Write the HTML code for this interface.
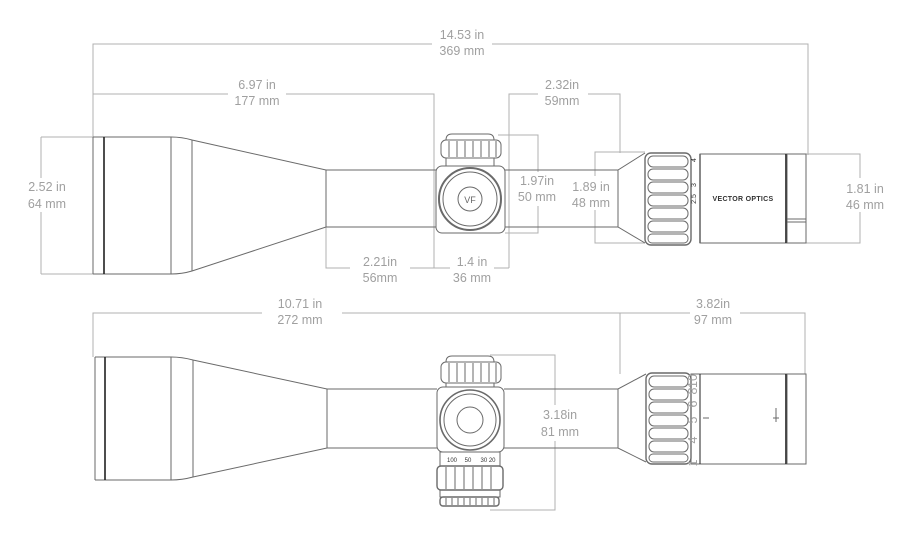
<!DOCTYPE html>
<html><head><meta charset="utf-8"><style>
html,body{margin:0;padding:0;background:#fff;}
svg{display:block;}
.d{stroke:#b0b0b0;stroke-width:1;fill:none;}
.s{stroke:#6a6a6a;stroke-width:1;fill:none;}
.k{stroke:#222;stroke-width:2;fill:none;}
text{font-family:"Liberation Sans",sans-serif;font-size:12.5px;fill:#a0a0a0;text-anchor:middle;}
.w{fill:#fff;stroke:none;}
</style></head><body>
<svg width="912" height="538" viewBox="0 0 912 538" xmlns="http://www.w3.org/2000/svg">
<!-- ===== TOP VIEW dimensions ===== -->
<path class="d" d="M93 137V44H808V155"/>
<rect class="w" x="432" y="28" width="60" height="32"/>
<text x="462" y="39">14.53 in</text><text x="462" y="55">369 mm</text>
<path class="d" d="M93 94H434V268"/>
<rect class="w" x="228" y="86" width="58" height="28"/>
<text x="257" y="89">6.97 in</text><text x="257" y="105">177 mm</text>
<path class="d" d="M509 268V94H620V153"/>
<rect class="w" x="538" y="82" width="50" height="28"/>
<text x="562" y="89">2.32in</text><text x="562" y="105">59mm</text>
<path class="d" d="M41 137V274M41 137H93M41 274H93"/>
<rect class="w" x="24" y="178" width="44" height="34"/>
<text x="47" y="191">2.52 in</text><text x="47" y="208">64 mm</text>
<path class="d" d="M326 227V268H509"/>
<rect class="w" x="350" y="258" width="60" height="30"/>
<text x="380" y="266">2.21in</text><text x="380" y="282">56mm</text>
<rect class="w" x="450" y="258" width="44" height="30"/>
<text x="472" y="266">1.4 in</text><text x="472" y="282">36 mm</text>
<path class="d" d="M498 135H538V233H505"/>
<rect class="w" x="515" y="172" width="46" height="34"/>
<text x="537" y="185">1.97in</text><text x="537" y="201">50 mm</text>
<path class="d" d="M645 152H595V243H645"/>
<rect class="w" x="570" y="176" width="48" height="34"/>
<text x="591" y="191">1.89 in</text><text x="591" y="207">48 mm</text>
<path class="d" d="M806 154H860V243H806"/>
<rect class="w" x="843" y="178" width="44" height="34"/>
<text x="865" y="193">1.81 in</text><text x="865" y="209">46 mm</text>

<!-- ===== TOP scope ===== -->
<path class="s" d="M93 137H171Q182 137 192 140L326 170H436M505 170H618L645 153M93 274H171Q182 274 192 271L326 227H436M505 227H618L645 243"/>
<path class="s" d="M93 137V274M171 137V274M192 140V271M326 170V227M618 170V227"/>
<path class="k" d="M104 137V274" style="stroke-width:1.6"/>
<rect class="s" x="436" y="166" width="69" height="67" rx="6"/>
<path class="s" d="M446 140Q446 134 452 134H488Q494 134 494 140M446 158V166M494 158V166"/>
<rect class="s" x="441" y="140" width="60" height="18" rx="5"/>
<path class="s" d="M449 141V157M457 141V157M465 141V157M473 141V157M481 141V157M489 141V157M496 141V157"/>
<circle class="s" cx="470" cy="199" r="31" style="stroke-width:2"/>
<circle class="s" cx="470" cy="199" r="27"/>
<circle class="s" cx="470" cy="199" r="12"/>
<text x="470" y="203" style="font-size:9px;fill:#666">VF</text>
<rect class="s" x="645" y="153" width="46" height="92" rx="6" style="stroke-width:1.4"/>
<g class="s">
<rect x="648" y="156" width="40" height="11" rx="5"/>
<rect x="648" y="169" width="40" height="11" rx="5"/>
<rect x="648" y="182" width="40" height="11" rx="5"/>
<rect x="648" y="195" width="40" height="11" rx="5"/>
<rect x="648" y="208" width="40" height="11" rx="5"/>
<rect x="648" y="221" width="40" height="11" rx="5"/>
<rect x="648" y="234" width="40" height="9" rx="4"/>
</g>
<path class="k" d="M700 154V243" style="stroke-width:1.4"/>
<rect class="s" x="700" y="154" width="86" height="89"/>
<path class="k" d="M786 154V243" style="stroke-width:1.6"/>
<rect class="s" x="787" y="154" width="19" height="89"/>
<path class="s" d="M787 219H806M787 222H806"/>
<text x="743" y="201" style="font-size:7px;fill:#333;font-weight:bold;letter-spacing:0.3px">VECTOR OPTICS</text>
<text x="696" y="160" style="font-size:7px;fill:#333" transform="rotate(-90 696 160)">4</text>
<text x="696" y="185" style="font-size:7px;fill:#333" transform="rotate(-90 696 185)">3</text>
<text x="696" y="199" style="font-size:7px;fill:#333" transform="rotate(-90 696 199)">2.5</text>

<!-- ===== BOTTOM dimensions ===== -->
<path class="d" d="M93 357V313H620V374M620 313H805V374"/>
<rect class="w" x="262" y="300" width="80" height="30"/>
<text x="300" y="308">10.71 in</text><text x="300" y="324">272 mm</text>
<rect class="w" x="690" y="300" width="50" height="30"/>
<text x="713" y="308">3.82in</text><text x="713" y="324">97 mm</text>
<path class="d" d="M490 355H555V510H490"/>
<rect class="w" x="536" y="405" width="46" height="36"/>
<text x="560" y="419">3.18in</text><text x="560" y="436">81 mm</text>

<!-- ===== BOTTOM scope ===== -->
<path class="s" d="M95 357H171Q182 357 193 360L327 389H437M504 389H618L646 374M95 480H171Q182 480 193 477L327 448H437M504 448H618L646 462"/>
<path class="s" d="M95 357V480M171 357V480M193 360V477M327 389V448M618 389V448"/>
<path class="k" d="M105 357V480" style="stroke-width:1.6"/>
<rect class="s" x="437" y="387" width="67" height="65" rx="6"/>
<path class="s" d="M446 362Q446 356 452 356H488Q494 356 494 362M446 383V387M494 383V387"/>
<rect class="s" x="441" y="362" width="60" height="21" rx="5"/>
<path class="s" d="M449 363V382M457 363V382M465 363V382M473 363V382M481 363V382M489 363V382M496 363V382"/>
<circle class="s" cx="470" cy="420" r="30" style="stroke-width:1.6"/>
<circle class="s" cx="470" cy="420" r="26"/>
<circle class="s" cx="470" cy="420" r="13"/>
<rect class="s" x="440" y="452" width="60" height="14"/>
<text x="452" y="462" style="font-size:6px;fill:#333">100</text>
<text x="468" y="462" style="font-size:6px;fill:#333">50</text>
<text x="488" y="462" style="font-size:6px;fill:#333">30 20</text>
<rect class="s" x="437" y="466" width="66" height="24" rx="4" style="stroke-width:1.4"/>
<path class="s" d="M446 467V489M455 467V489M464 467V489M473 467V489M482 467V489M491 467V489"/>
<rect class="s" x="440" y="490" width="60" height="7"/>
<rect class="s" x="440" y="497" width="59" height="9" rx="3" style="stroke-width:1.4"/>
<path class="s" d="M446 498V505M452 498V505M458 498V505M464 498V505M470 498V505M476 498V505M482 498V505M488 498V505M494 498V505"/>
<rect class="s" x="646" y="373" width="45" height="91" rx="6" style="stroke-width:1.4"/>
<g class="s">
<rect x="649" y="376" width="39" height="11" rx="5"/>
<rect x="649" y="389" width="39" height="11" rx="5"/>
<rect x="649" y="402" width="39" height="11" rx="5"/>
<rect x="649" y="415" width="39" height="11" rx="5"/>
<rect x="649" y="428" width="39" height="11" rx="5"/>
<rect x="649" y="441" width="39" height="11" rx="5"/>
<rect x="649" y="454" width="39" height="8" rx="4"/>
</g>
<rect class="s" x="691" y="374" width="95" height="90"/>
<path class="k" d="M700 374V464" style="stroke-width:1"/>
<path class="k" d="M786 374V464" style="stroke-width:1.6"/>
<rect class="s" x="787" y="374" width="19" height="90"/>
<g style="font-size:6px;fill:#333">
<text x="697" y="440" transform="rotate(-90 697 440)">4</text>
<text x="697" y="420" transform="rotate(-90 697 420)">5</text>
<text x="697" y="404" transform="rotate(-90 697 404)">6</text>
<text x="697" y="391" transform="rotate(-90 697 391)">8</text>
<text x="697" y="381" transform="rotate(-90 697 381)">10</text>
<text x="697" y="463" transform="rotate(-90 697 463)">1</text>
</g>
<path class="s" d="M703 418H709M776 408V422M773 418H779"/>
</svg>
</body></html>
